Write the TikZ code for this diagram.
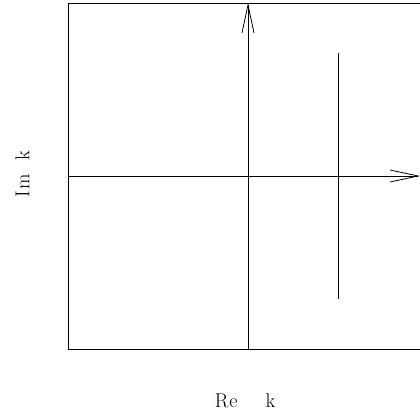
\documentclass[tikz,border=0pt]{standalone}
\usepackage{fontspec}
\usetikzlibrary{arrows.meta}
\begin{document}
\begin{tikzpicture}[x=1pt,y=-1pt,
  axis/.style={line width=0.9pt,-{Straight Barb[length=28pt,width=12pt,line width=0.8pt]}},
  thin/.style={line width=0.9pt},
  lbl/.style={font=\fontsize{20}{24}\selectfont}]
\useasboundingbox (0,0) rectangle (420,414);
\coordinate (tl) at (68,3);
\coordinate (tr) at (421,3);
\coordinate (bl) at (68,349);
\coordinate (br) at (421,349);
\draw[thin] (tr) -- (tl) -- (bl) -- (br);
\coordinate (vb) at (248,349);
\coordinate (vt) at (248,3);
\coordinate (hl) at (68,176);
\coordinate (hr) at (420,176);
\draw[axis] (vb) -- (vt);
\draw[axis] (hl) -- (hr);
\coordinate (st) at (338,53);
\coordinate (sb) at (338,299);
\draw[thin] (st) -- (sb);
\node[lbl,rotate=90] (im) at (22.5,174) {I\kern1pt m\hspace{14pt}k};
\node[lbl] (re) at (245,401) {R\kern1pt e\hspace{28pt}k};
\end{tikzpicture}
\end{document}
